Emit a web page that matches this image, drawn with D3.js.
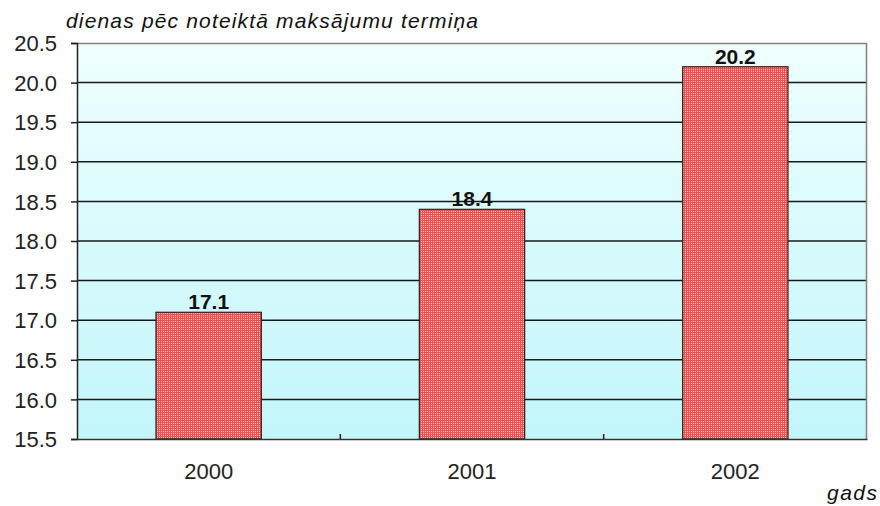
<!DOCTYPE html>
<html><head><meta charset="utf-8">
<script src="https://cdn.jsdelivr.net/npm/d3@7/dist/d3.min.js"></script>
<style>body{margin:0;background:#fff}svg{display:block}</style>
</head><body>
<script>
const categories = ["2000", "2001", "2002"];
const values = [17.1, 18.4, 20.2];
const yTicks = [15.5, 16.0, 16.5, 17.0, 17.5, 18.0, 18.5, 19.0, 19.5, 20.0, 20.5];
const yTitle = "dienas pēc noteiktā maksājumu termiņa";
const xTitle = "gads";

const W = 880, H = 506;
const m = {left: 77, right: 13, top: 43, bottom: 67};
const iw = W - m.left - m.right, ih = H - m.top - m.bottom;
const FONT = "Arial, Liberation Sans, sans-serif";

const svg = d3.select("body").append("svg").attr("width", W).attr("height", H);
const defs = svg.append("defs");
const grad = defs.append("linearGradient").attr("id", "bg").attr("x1", 0).attr("y1", 0).attr("x2", 0).attr("y2", 1);
grad.append("stop").attr("offset", "0%").attr("stop-color", "#effffe");
grad.append("stop").attr("offset", "100%").attr("stop-color", "#c2f6fb");
const pat = defs.append("pattern").attr("id", "barpat").attr("width", 2).attr("height", 2).attr("patternUnits", "userSpaceOnUse");
pat.append("rect").attr("width", 2).attr("height", 2).attr("fill", "#ff4a4a");
pat.append("rect").attr("width", 1).attr("height", 1).attr("fill", "#ffd0d0");

const x = d3.scaleBand().domain(categories).range([0, iw]).padding(0);
const y = d3.scaleLinear().domain([15.5, 20.5]).range([ih, 0]);
const g = svg.append("g").attr("transform", `translate(${m.left},${m.top})`);

g.append("rect").attr("width", iw).attr("height", ih).attr("fill", "url(#bg)");

// gridlines
g.selectAll(".grid").data(yTicks.slice(1, -1)).join("line")
  .attr("x1", 0).attr("x2", iw).attr("y1", d => y(d)).attr("y2", d => y(d))
  .attr("stroke", "#1a1a1a").attr("stroke-width", 1.5);

// plot border top/right
g.append("path").attr("d", `M0,0.5H${iw-0.5}V${ih}`).attr("fill", "none").attr("stroke", "#808080").attr("stroke-width", 1.5);

// bars
const bw = x.bandwidth() * 0.4;
g.selectAll(".bar").data(values).join("rect")
  .attr("x", (d, i) => x(categories[i]) + (x.bandwidth() - bw) / 2)
  .attr("y", d => y(d)).attr("width", bw).attr("height", d => ih - y(d))
  .attr("fill", "url(#barpat)").attr("stroke", "#222").attr("stroke-width", 1.2);

// value labels
g.selectAll(".val").data(values).join("text")
  .attr("x", (d, i) => x(categories[i]) + x.bandwidth() / 2)
  .attr("y", d => y(d) - 3)
  .attr("text-anchor", "middle").attr("font-family", FONT)
  .attr("font-size", 21).attr("font-weight", "bold").attr("fill", "#111")
  .text(d => d.toFixed(1));

// y axis
const ya = g.append("g").call(d3.axisLeft(y).tickValues(yTicks).tickFormat(d3.format(".1f")).tickSize(6).tickPadding(14));
ya.select(".domain").attr("stroke", "#222").attr("stroke-width", 1.5);
ya.selectAll(".tick line").attr("stroke", "#222").attr("stroke-width", 1.5);
ya.selectAll("text").attr("font-family", FONT).attr("font-size", 22).attr("fill", "#222")
  .attr("dy", "0.35em");

// x axis
const xa = g.append("g").attr("transform", `translate(0,${ih})`)
  .call(d3.axisBottom(x).tickSize(0).tickPadding(0));
xa.select(".domain").attr("stroke", "#333").attr("stroke-width", 1.5);
xa.selectAll("text").attr("font-family", FONT).attr("font-size", 22).attr("fill", "#222")
  .attr("dy", 0).attr("y", 40);
// inner tick marks at category boundaries
g.selectAll(".xt").data(categories.slice(1)).join("line")
  .attr("x1", d => x(d)).attr("x2", d => x(d)).attr("y1", ih).attr("y2", ih - 5)
  .attr("stroke", "#222").attr("stroke-width", 1.5);

// titles
svg.append("text").attr("x", 66).attr("y", 28).attr("font-family", FONT)
  .attr("font-size", 21).attr("font-style", "italic").attr("fill", "#111")
  .attr("textLength", 412).attr("lengthAdjust", "spacing").text(yTitle);
svg.append("text").attr("x", 827).attr("y", 500).attr("font-family", FONT)
  .attr("font-size", 21).attr("font-style", "italic").attr("fill", "#111")
  .attr("textLength", 50).attr("lengthAdjust", "spacing").text(xTitle);
</script>
</body></html>
